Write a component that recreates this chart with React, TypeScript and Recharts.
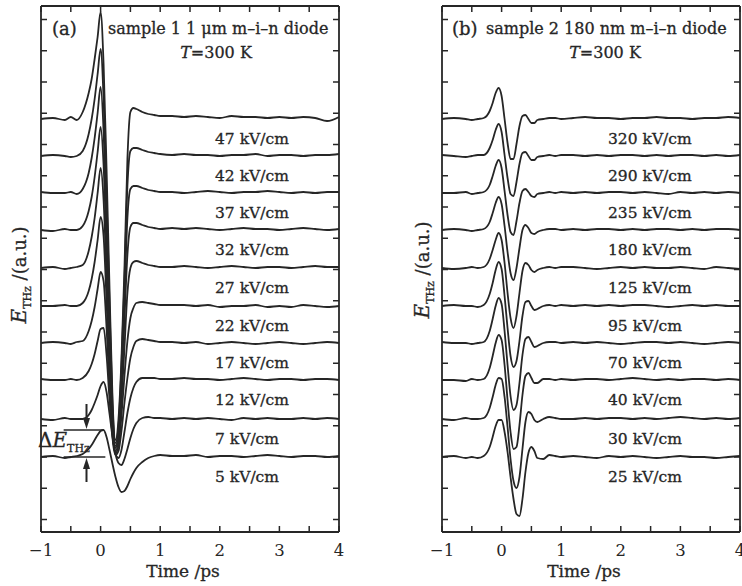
import { LineChart, Line, XAxis, YAxis, ReferenceLine } from 'recharts';
import type { ReactNode } from 'react';

// delay time (ps), shared by every trace
const TIME = [
  -1, -0.8, -0.6, -0.5, -0.4, -0.3, -0.2, -0.15, -0.1, -0.05,
  0, 0.05, 0.1, 0.15, 0.2, 0.25, 0.3, 0.35, 0.4, 0.45,
  0.5, 0.55, 0.6, 0.7, 0.8, 0.9, 1, 1.2, 1.4, 1.6,
  1.8, 2, 2.2, 2.4, 2.6, 2.8, 3, 3.2, 3.4, 3.6, 3.8, 4,
];

// vertical offset of each stacked trace, bottom to top (a.u.)
const OFFSETS = [0, 38, 77, 114, 151, 189, 227, 264, 301, 338];

const FIELDS_A = ['5', '7', '12', '17', '22', '27', '32', '37', '42', '47'];
const FIELDS_B = ['25', '30', '40', '70', '95', '125', '180', '235', '290', '320'];

// sample 1, E_THz (a.u.) relative to each baseline
const A_5 = [0, 1, -1, 0, 1, 3, 8, 12, 17, 22, 26, 27, 20, 7, -7, -20, -30, -35, -34, -29, -22, -16, -11, -5, -1, 1, 2, 1, 1, 2, 0, 1, 1, 0, 1, 2, 1, 0, 1, 1, 0, 1];
const A_7 = [0, -1, 1, 0, 0, 0, 4, 9, 16, 24, 33, 37, 27, 5, -18, -35, -44, -46, -40, -30, -19, -10, -4, 1, 2, 1, 1, 0, 1, 0, 1, 0, -1, 1, 0, 1, 0, 0, 1, 0, 1, 0];
const A_12 = [1, 0, 0, 1, 0, 2, 9, 16, 26, 39, 51, 52, 25, -20, -55, -74, -78, -70, -52, -33, -18, -8, -2, 2, 2, 2, 1, 1, 2, 1, 1, 0, 1, 2, 1, 0, 1, 1, 0, 1, 1, 0];
const A_17 = [0, 1, 0, -1, 1, 2, 12, 22, 36, 54, 71, 62, 15, -45, -95, -112, -108, -88, -60, -35, -15, -4, 2, 4, 3, 2, 1, 1, 0, 1, -1, 0, 1, 0, -1, 0, 1, 0, -1, 0, 1, 0];
const A_22 = [0, 0, 1, 0, 0, 3, 15, 27, 44, 66, 89, 70, 5, -65, -125, -147, -140, -110, -70, -35, -12, -2, 3, 4, 3, 2, 1, 1, 1, 0, 1, -1, 0, 0, 1, -1, 0, -1, 1, 0, -1, 0];
const A_27 = [0, 1, -1, 0, 1, 3, 17, 31, 50, 75, 100, 68, -10, -90, -160, -183, -172, -135, -80, -25, 0, 6, 7, 5, 3, 2, 1, 1, 2, 1, 0, 1, 2, 1, 0, 1, 1, 0, 1, 2, 1, 1];
const A_32 = [0, -1, 1, 0, 0, 4, 19, 33, 53, 78, 103, 65, -20, -110, -190, -218, -205, -160, -90, -25, 3, 7, 7, 5, 3, 2, 1, 2, 1, 2, 1, 0, 1, 2, 1, 1, 0, 1, 2, 1, 0, 1];
const A_37 = [1, 0, 0, 1, -1, 4, 20, 35, 55, 80, 106, 62, -30, -130, -220, -253, -240, -185, -105, -25, 4, 7, 7, 5, 3, 2, 1, 1, 0, 1, 2, 1, 0, 1, 1, 2, 1, 0, 1, 0, 1, 1];
const A_42 = [0, 1, 0, -1, 0, 5, 22, 37, 57, 82, 107, 58, -40, -150, -250, -287, -270, -210, -125, -30, 5, 8, 8, 6, 4, 3, 2, 1, 2, 1, 1, 0, 1, 1, 2, 0, 1, 1, 0, 1, 1, 2];
const A_47 = [0, 1, -1, 2, -1, 7, 26, 40, 60, 82, 107, 55, -50, -170, -280, -321, -300, -240, -150, -40, 7, 11, 10, 7, 5, 4, 3, 3, 2, 3, 2, 1, 3, 2, 2, 1, 2, 1, 2, 1, -2, 2];

// sample 2
const B_25 = [0, 1, -1, 0, -1, 1, 10, 20, 31, 37, 37, 25, 5, -20, -42, -57, -59, -42, -15, 4, 10, 6, -1, -2, 2, 1, 0, 1, 0, -1, 1, 0, 1, 0, -1, 0, 1, 0, 0, -1, 0, 1];
const B_30 = [0, -1, 1, 0, 0, 1, 11, 22, 34, 41, 40, 22, -8, -40, -62, -69, -58, -30, -3, 7, 5, -1, -3, 0, 2, 1, 0, 0, 1, 0, 1, 1, 0, 1, 0, 1, 2, 1, 0, 1, 0, 1];
const B_40 = [0, 0, -1, 1, 0, 1, 12, 24, 37, 45, 40, 15, -20, -52, -69, -67, -45, -15, 4, 7, 2, -3, -3, 1, 1, 0, 1, 0, 1, 1, 0, 1, 2, 1, 0, 1, 0, 1, 1, 0, 1, 0];
const B_70 = [1, 0, 0, -1, 0, 1, 12, 24, 37, 45, 39, 12, -22, -53, -67, -62, -40, -12, 4, 6, 1, -4, -3, 0, 1, 1, 0, 1, 0, 1, 0, -1, 0, 1, 1, 0, 1, 0, -1, 0, 1, 0];
const B_95 = [0, 1, 0, 0, -1, 1, 12, 23, 36, 44, 37, 10, -22, -50, -61, -55, -35, -10, 4, 5, 0, -4, -3, 0, 1, 0, 1, 0, 1, 0, 1, 0, 1, 1, 0, -1, 0, 1, 0, 1, 0, 0];
const B_125 = [0, -1, 0, 1, 0, 1, 9, 18, 28, 35, 28, 5, -25, -50, -60, -48, -25, -3, 5, 3, -2, -4, -2, 0, 1, 0, 1, 1, 0, -1, 0, 1, 0, 1, 0, 0, 1, 0, -1, 1, 0, -1];
const B_180 = [0, 1, 0, -1, 0, 1, 8, 17, 27, 33, 26, 4, -22, -43, -50, -38, -18, 0, 5, 2, -3, -4, -2, 0, 1, 1, 0, 1, 0, 1, 1, 0, 1, 0, 1, 1, 0, 1, 0, 1, 1, 0];
const B_235 = [0, 0, 1, -1, 0, 1, 8, 17, 27, 33, 25, 2, -22, -39, -42, -28, -10, 2, 4, 1, -3, -4, -1, 0, 1, 0, 1, 0, 1, 0, 1, 1, 0, 1, 0, -1, 1, 0, 1, 0, 1, 0];
const B_290 = [1, 0, -1, 0, 1, 1, 8, 16, 26, 32, 24, 1, -22, -38, -40, -26, -8, 3, 4, 0, -4, -4, -1, 0, 1, 0, 1, 1, 0, 1, 0, 1, 1, 0, 1, 0, 1, 1, 0, 1, 0, 1];
const B_320 = [0, 1, 0, -1, 0, 1, 8, 16, 26, 31, 23, 0, -24, -40, -40, -25, -7, 3, 4, 0, -4, -4, -1, 0, 1, 1, 0, 1, 2, 1, 1, 0, 1, 1, 2, 1, 1, 0, 1, 1, 2, 1];

const TRACES_A = [A_5, A_7, A_12, A_17, A_22, A_27, A_32, A_37, A_42, A_47];
const TRACES_B = [B_25, B_30, B_40, B_70, B_95, B_125, B_180, B_235, B_290, B_320];

const X_TICKS = [-1, -0.5, 0, 0.5, 1, 1.5, 2, 2.5, 3, 3.5, 4];
const Y_TICKS = Array.from({ length: 17 }, (_, i) => -62.5 + i * 31.25);
const Y_DOMAIN: [number, number] = [-75, 451];

const FONT = '"DejaVu Serif", "Liberation Serif", serif';
const INK = '#262626';

const buildRows = (traces: number[][]) =>
  TIME.map((t, i) => {
    const row: Record<string, number> = { t };
    traces.forEach((tr, k) => {
      row['s' + k] = OFFSETS[k] + tr[i];
    });
    return row;
  });

const fmtX = (v: number) =>
  Number.isInteger(v) ? (v < 0 ? '\u2212' + Math.abs(v) : String(v)) : '';
const blank = () => '';

// baseline pixel of trace k (plot bottom 532 px = -75 a.u.)
const basePx = (k: number) => 457 - OFFSETS[k];

interface PanelProps {
  traces: number[][];
  left: number;
  width: number;
  margin: { top: number; right: number; bottom: number; left: number };
  children?: ReactNode;
}

// axes are 1px thick boxes, so the margins are 1px short of the plot edges
const Panel = ({ traces, left, width, margin, children }: PanelProps) => {
  const rows = buildRows(traces);
  const axisLine = { stroke: INK, strokeWidth: 1.8 };
  const tickLine = { stroke: INK, strokeWidth: 1.5 };
  return (
    <div style={{ position: 'absolute', left, top: 0 }}>
      <LineChart width={width} height={586} data={rows} margin={margin}>
        <XAxis xAxisId="b" dataKey="t" type="number" domain={[-1, 4]} ticks={X_TICKS} interval={0}
          height={1} tickSize={-6} tickMargin={18} tickFormatter={fmtX}
          tick={{ fill: INK, fontSize: 16.5, fontFamily: FONT }} axisLine={axisLine} tickLine={tickLine} allowDataOverflow />
        <XAxis xAxisId="t" orientation="top" dataKey="t" type="number" domain={[-1, 4]} ticks={X_TICKS} interval={0}
          height={1} tickSize={-6} tickFormatter={blank} axisLine={axisLine} tickLine={tickLine} allowDataOverflow />
        <YAxis yAxisId="l" type="number" domain={Y_DOMAIN} ticks={Y_TICKS} interval={0}
          width={1} tickSize={-6} tickFormatter={blank} axisLine={axisLine} tickLine={tickLine} allowDataOverflow />
        <YAxis yAxisId="r" orientation="right" type="number" domain={Y_DOMAIN} ticks={Y_TICKS} interval={0}
          width={1} tickSize={-6} tickFormatter={blank} axisLine={axisLine} tickLine={tickLine} allowDataOverflow />
        {traces.map((_, k) => (
          <Line key={k} xAxisId="b" yAxisId="l" dataKey={'s' + k} type="monotone"
            stroke={INK} strokeWidth={1.8} dot={false} isAnimationActive={false} />
        ))}
        {children}
      </LineChart>
    </div>
  );
};

const YLabel = ({ x, y }: { x: number; y: number }) => (
  <g transform={`translate(${x},${y}) rotate(-90)`}>
    <text textAnchor="middle" fontSize={18} fontFamily={FONT} fill={INK} stroke={INK} strokeWidth={0.3}>
      <tspan fontStyle="italic" fontSize={20}>E</tspan>
      <tspan fontSize={11} dy={5}>THz</tspan>
      <tspan dy={-5}> /(a.u.)</tspan>
    </text>
  </g>
);

export default function App() {
  return (
    <div style={{ position: 'absolute', left: 0, top: 0, width: 742, height: 586, background: '#fff', overflow: 'hidden' }}>
      <Panel traces={TRACES_A} left={0} width={370} margin={{ top: 5, right: 30, bottom: 53, left: 40 }}>
        <ReferenceLine xAxisId="b" yAxisId="l" segment={[{ x: -0.62, y: A_5[11] }, { x: 0.05, y: A_5[11] }]}
          stroke={INK} strokeWidth={1.5} />
        <ReferenceLine xAxisId="b" yAxisId="l" segment={[{ x: -0.62, y: 0 }, { x: 0.08, y: 0 }]}
          stroke={INK} strokeWidth={1.5} />
      </Panel>
      <Panel traces={TRACES_B} left={371} width={371} margin={{ top: 5, right: 1, bottom: 53, left: 70 }} />

      <svg width={742} height={586} style={{ position: 'absolute', left: 0, top: 0, pointerEvents: 'none' }}
        fontFamily={FONT} fill={INK} stroke={INK} strokeWidth={0.3}>
        <text x={52} y={35} fontSize={18}>(a)</text>
        <text x={108} y={34} fontSize={16}>sample 1 1 μm m–i–n diode</text>
        <text x={216} y={58} fontSize={16} textAnchor="middle">
          <tspan fontStyle="italic">T</tspan>=300 K
        </text>
        <text x={452} y={35} fontSize={18}>(b)</text>
        <text x={486} y={34} fontSize={16}>sample 2 180 nm m–i–n diode</text>
        <text x={605} y={58} fontSize={16} textAnchor="middle">
          <tspan fontStyle="italic">T</tspan>=300 K
        </text>

        {FIELDS_A.map((f, k) => (
          <text key={'a' + k} x={215} y={basePx(k) + 25} fontSize={15.5}>{f} kV/cm</text>
        ))}
        {FIELDS_B.map((f, k) => (
          <text key={'b' + k} x={608} y={basePx(k) + 25} fontSize={15.5}>{f} kV/cm</text>
        ))}

        <YLabel x={26} y={275} />
        <YLabel x={429} y={270} />

        <text x={183} y={577} fontSize={17} textAnchor="middle">Time /ps</text>
        <text x={584} y={577} fontSize={17} textAnchor="middle">Time /ps</text>

        {/* ΔE_THz marker */}
        <text x={38} y={447} fontSize={20}>
          Δ<tspan fontStyle="italic">E</tspan>
          <tspan fontSize={11} dy={5}>THz</tspan>
        </text>
        <line x1={86.5} y1={404} x2={86.5} y2={420} strokeWidth={2} />
        <polygon points="86.5,429 83,418 90,418" strokeWidth={0} />
        <line x1={86.5} y1={482} x2={86.5} y2={467} strokeWidth={2} />
        <polygon points="86.5,458 83,469 90,469" strokeWidth={0} />
      </svg>
    </div>
  );
}
